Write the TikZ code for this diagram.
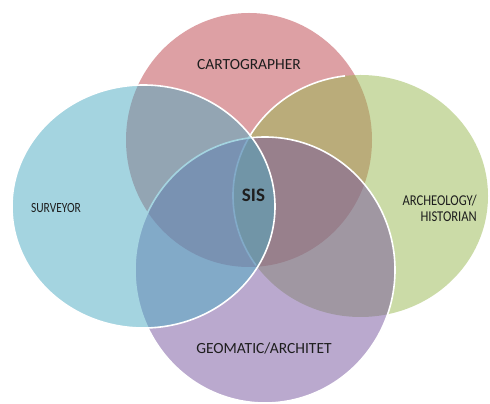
\documentclass[tikz,border=0pt]{standalone}
\usepackage{fontspec}
\setmainfont{Carlito}
\definecolor{pinkc}{RGB}{221,160,164}
\definecolor{greenc}{RGB}{153,185,81}
\definecolor{purplec}{RGB}{119,85,159}
\definecolor{bluec}{RGB}{75,171,195}
\definecolor{txt}{RGB}{30,30,30}
\tikzset{
  rim/.style={draw=white, line width=1.6pt},
  lbl/.style={text=txt, inner sep=0pt, font=\fontsize{15.5}{16}\selectfont},
}
\begin{document}
\begin{tikzpicture}[x=1pt,y=1pt]
\useasboundingbox (0,0) rectangle (490,404);
\fill[white] (0,0) rectangle (490,404);
\coordinate (pc) at (249,264);
\coordinate (sc) at (143.5,197.5);
\coordinate (gc) at (360.5,208);
\coordinate (mc) at (265,134);
% cartographer
\fill[pinkc] (pc) ellipse [x radius=123pt, y radius=127pt];
% archeology
\fill[greenc, fill opacity=0.5] (gc) ellipse [x radius=127.5pt, y radius=121pt];
\draw[rim] ([shift={(97:127.5pt and 121pt)}]gc) arc[start angle=97, end angle=215, x radius=127.5pt, y radius=121pt];
% geomatic
\fill[purplec, fill opacity=0.5] (mc) ellipse [x radius=130pt, y radius=133pt];
\draw[rim] (mc) ellipse [x radius=130pt, y radius=133pt];
% surveyor
\fill[bluec, fill opacity=0.5] (sc) ellipse [x radius=131.5pt, y radius=121.5pt];
\draw[rim] (sc) ellipse [x radius=131.5pt, y radius=121.5pt];
% labels
\node[lbl] (carto) at (249,339) {CARTOGRAPHER};
\node[lbl, font=\fontsize{19}{20}\selectfont\bfseries] (sis) at (253.5,209) {SIS};
\node[lbl, font=\fontsize{14}{16}\selectfont] (surv) at (56,196) {\scalebox{0.82}[1]{SURVEYOR}};
\node[lbl, font=\fontsize{15}{16}\selectfont, anchor=east, align=right] (arch) at (477,196) {\scalebox{0.84}[1]{ARCHEOLOGY/}\\\scalebox{0.84}[1]{HISTORIAN}};
\node[lbl] (geo) at (264,56) {GEOMATIC/ARCHITET};
\end{tikzpicture}
\end{document}
